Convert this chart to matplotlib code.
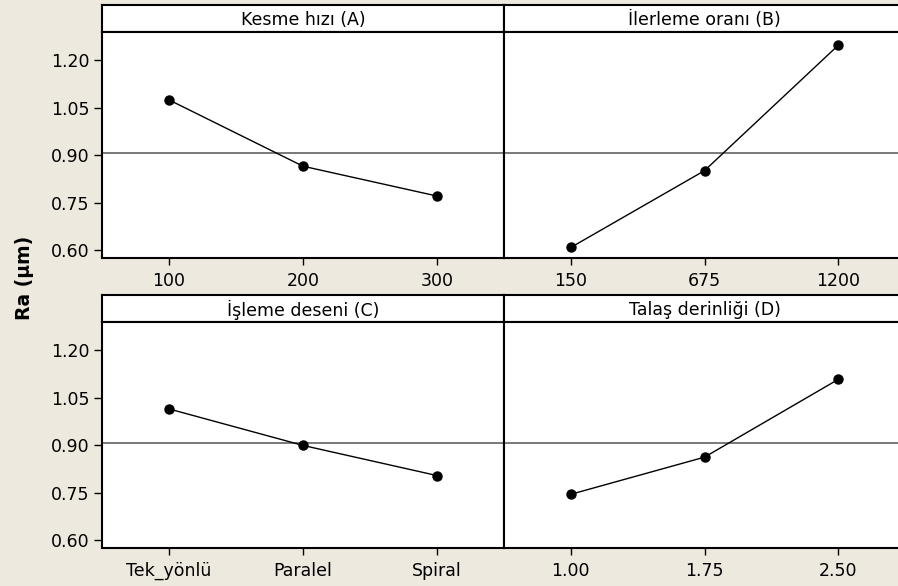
import matplotlib
matplotlib.use('Agg')
import matplotlib.pyplot as plt

# Veriler (ortalama Ra değerleri)
factors = ['Kesme hızı (A)', 'İlerleme oranı (B)', 'İşleme deseni (C)', 'Talaş derinliği (D)']
levels_A = ['100', '200', '300']
means_A = [1.074, 0.865, 0.771]
levels_B = ['150', '675', '1200']
means_B = [0.609, 0.851, 1.246]
levels_C = ['Tek_yönlü', 'Paralel', 'Spiral']
means_C = [1.014, 0.899, 0.804]
levels_D = ['1.00', '1.75', '2.50']
means_D = [0.745, 0.862, 1.107]
grand_mean = 0.907
yticks = [0.60, 0.75, 0.90, 1.05, 1.20]

W, H = 898, 586
bg = '#EDE9DF'
fig = plt.figure(figsize=(W / 100, H / 100), dpi=100, facecolor=bg)

def box(x0, x1, y0, y1):
    # piksel koordinatlarından figür kesrine
    return [x0 / W, 1 - y1 / H, (x1 - x0) / W, (y1 - y0) / H]

cols = [(102, 504), (504, 905)]
rows = [(5, 32, 258), (295, 322, 548)]
panels = [(levels_A, means_A), (levels_B, means_B), (levels_C, means_C), (levels_D, means_D)]

for i, (levels, means) in enumerate(panels):
    r, c = divmod(i, 2)
    x0, x1 = cols[c]
    ys, yp, yb = rows[r]

    # başlık şeridi
    st = fig.add_axes(box(x0, x1, ys, yp))
    st.set_facecolor('white')
    st.set_xticks([])
    st.set_yticks([])
    for s in st.spines.values():
        s.set_linewidth(1.5)
    st.text(0.5, 0.45, factors[i], ha='center', va='center', fontsize=12.5, transform=st.transAxes)

    ax = fig.add_axes(box(x0, x1, yp, yb))
    ax.set_facecolor('white')
    for s in ax.spines.values():
        s.set_linewidth(1.5)
    pos = list(range(1, len(levels) + 1))
    ax.axhline(grand_mean, color='#555555', lw=1.1, zorder=1)
    ax.plot(pos, means, color='black', lw=1.0, marker='o', markersize=6.5, zorder=3)
    ax.set_xlim(0.5, 3.5)
    ax.set_ylim(0.5757, 1.288)
    ax.set_xticks(pos)
    ax.set_xticklabels(levels, fontsize=12.5)
    ax.tick_params(axis='x', length=5, width=1, pad=5)
    if c == 0:
        ax.set_yticks(yticks)
        ax.set_yticklabels([f'{v:.2f}' for v in yticks], fontsize=12.5)
        ax.tick_params(axis='y', length=6, width=1, pad=3)
    else:
        ax.set_yticks([])

fig.text(24 / W, 1 - 278 / H, 'Ra (µm)', rotation=90, ha='center', va='center',
         fontsize=13.5, fontweight='bold')

fig.savefig('out.png', dpi=100, facecolor=bg)
